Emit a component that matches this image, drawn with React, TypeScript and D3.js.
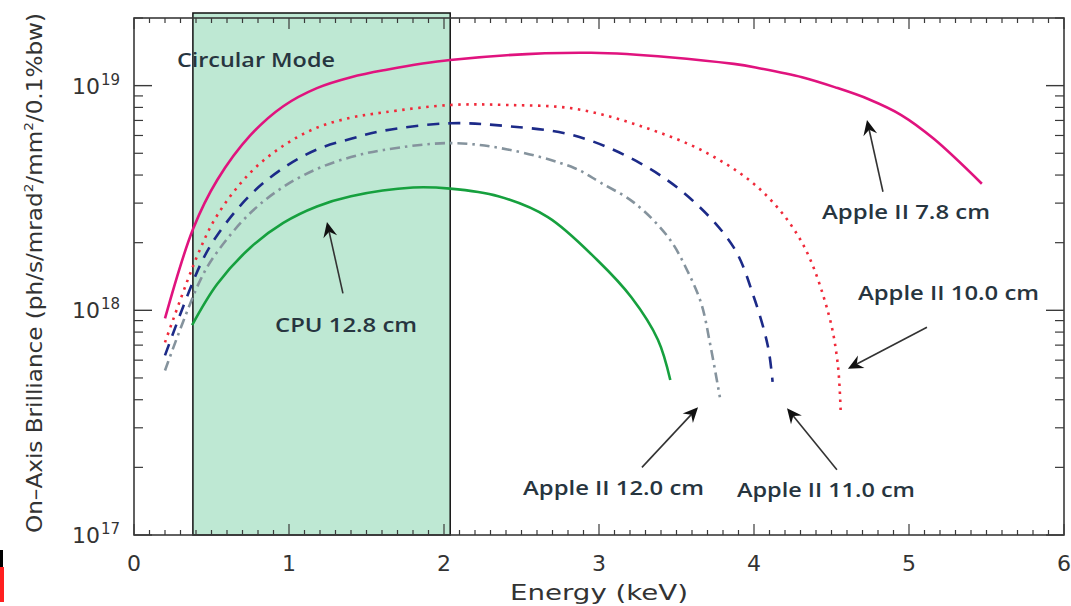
import React from "react";
import * as d3 from "d3";

// ---------- data (energy keV, brilliance) ----------
const apple78E = [0.2, 0.381, 0.537, 0.75, 0.963, 1.18, 1.4, 1.61, 2.04, 2.95, 3.87, 4.05, 4.31, 4.52, 4.74, 4.95, 5.16, 5.47];
const apple78B = [9.2e17, 2.3e18, 3.8e18, 6.0e18, 8.1e18, 9.75e18, 1.09e19, 1.17e19, 1.3e19, 1.4e19, 1.25e19, 1.19e19, 1.09e19, 9.85e18, 8.7e18, 7.4e18, 5.8e18, 3.66e18];

const apple100E = [0.2, 0.41, 0.537, 0.75, 0.963, 1.18, 1.4, 1.61, 2.04, 2.41, 2.84, 3.27, 3.7, 4.05, 4.31, 4.48, 4.54, 4.56];
const apple100B = [7.2e17, 1.76e18, 2.65e18, 4.1e18, 5.4e18, 6.5e18, 7.2e18, 7.6e18, 8.2e18, 8.2e18, 7.9e18, 6.6e18, 5.0e18, 3.4e18, 2.0e18, 9.7e17, 5.8e17, 3.4e17];

const apple110E = [0.2, 0.427, 0.537, 0.75, 0.963, 1.18, 1.4, 1.61, 2.04, 2.41, 2.84, 3.27, 3.6, 3.87, 4.0, 4.09, 4.12];
const apple110B = [6.3e17, 1.59e18, 2.16e18, 3.26e18, 4.3e18, 5.2e18, 5.8e18, 6.3e18, 6.8e18, 6.6e18, 6.0e18, 4.5e18, 3.1e18, 1.9e18, 1.14e18, 6.9e17, 4.8e17];

const apple120E = [0.2, 0.427, 0.537, 0.75, 0.963, 1.18, 1.4, 1.61, 2.04, 2.41, 2.84, 3.01, 3.23, 3.45, 3.57, 3.66, 3.72, 3.78];
const apple120B = [5.4e17, 1.36e18, 1.82e18, 2.71e18, 3.54e18, 4.26e18, 4.81e18, 5.17e18, 5.55e18, 5.2e18, 4.3e18, 3.7e18, 3.0e18, 2.1e18, 1.5e18, 1.07e18, 6.9e17, 4.1e17];

const cpuE = [0.375, 0.537, 0.75, 0.963, 1.18, 1.4, 1.8, 2.04, 2.35, 2.67, 2.99, 3.21, 3.38, 3.46];
const cpuB = [8.6e17, 1.31e18, 1.9e18, 2.45e18, 2.9e18, 3.22e18, 3.52e18, 3.48e18, 3.22e18, 2.6e18, 1.67e18, 1.14e18, 7.4e17, 4.9e17];

const xTickLabels = ["0", "1", "2", "3", "4", "5", "6"];
const yTickExponents = ["17", "18", "19"];
const circularModeRange = [0.38, 2.04];

const seriesNames = ["Apple II 7.8 cm", "Apple II 10.0 cm", "Apple II 11.0 cm", "Apple II 12.0 cm", "CPU 12.8 cm"];
// label anchor [energy, brilliance], arrow tail, arrow tip
const labelAt = [[4.439, 2.55e18], [4.671, 1.11e18], [3.89, 1.48e17], [2.51, 1.51e17], [0.91, 8.0e17]];
const arrowTail = [[4.832, 3.37e18], [5.116, 8.4e17], [4.535, 1.95e17], [3.277, 2.0e17], [1.348, 1.19e18]];
const arrowTip = [[4.729, 7.03e18], [4.606, 5.5e17], [4.213, 3.67e17], [3.639, 3.7e17], [1.245, 2.47e18]];
const labelWidths = [168, 181, 178, 181, 142];

const W = 1071, H = 606;
const x = d3.scaleLinear().domain([0, 6]).range([134, 1064]);
const y = d3.scaleLog().domain([1e17, 2e19]).range([535, 18]);

const series = [
  { e: apple78E, b: apple78B, color: "#e0137e", dash: null },
  { e: apple100E, b: apple100B, color: "#f02a3a", dash: "2.5,5.5" },
  { e: apple110E, b: apple110B, color: "#1c2a88", dash: "12,9" },
  { e: apple120E, b: apple120B, color: "#85939d", dash: "10,5,2.5,5" },
  { e: cpuE, b: cpuB, color: "#16a03e", dash: null },
];

const line = d3
  .line<[number, number]>()
  .x((d) => x(d[0]))
  .y((d) => y(d[1]))
  .curve(d3.curveCatmullRom.alpha(0.5));

function arrowPath(tail: number[], tip: number[]) {
  const x0 = x(tail[0]), y0 = y(tail[1]);
  const x1 = x(tip[0]), y1 = y(tip[1]);
  const dx = x1 - x0, dy = y1 - y0;
  const len = Math.hypot(dx, dy);
  const ux = dx / len, uy = dy / len;
  const px = -uy, py = ux;
  const hl = 15, hw = 7, notch = 10;
  const bx = x1 - ux * hl, by = y1 - uy * hl;
  const nx = x1 - ux * notch, ny = y1 - uy * notch;
  return {
    shaft: `M${x0},${y0}L${nx},${ny}`,
    head: `M${x1},${y1}L${bx + px * hw},${by + py * hw}L${nx},${ny}L${bx - px * hw},${by - py * hw}Z`,
  };
}

export default function App() {
  const frameColor = "#3a3a3a";
  const textColor = "#27353f";
  const axisFont = "'DejaVu Sans', sans-serif";
  const annFont = "'Open Sans', sans-serif";
  const [x0, x1] = x.range();
  const [yb, yt] = y.range();

  const xMinor = d3.range(0, 60.5, 1).map((v) => v / 10);
  const yMinor: number[] = [];
  [1e17, 1e18, 1e19].forEach((dec) => {
    for (let k = 2; k <= 9; k++) {
      const v = dec * k;
      if (v <= 2e19) yMinor.push(v);
    }
  });

  return (
    <svg width={W} height={H} style={{ position: "absolute", left: 0, top: 0, background: "#fff" }}>
      <rect x={0} y={0} width={W} height={H} fill="#fff" />
      {/* left-edge artifact */}
      <rect x={0} y={550} width={3} height={17} fill="#000" />
      <rect x={0} y={567} width={4} height={35} fill="#ff2020" />

      {/* circular mode band */}
      <rect
        x={x(circularModeRange[0])}
        y={13}
        width={x(circularModeRange[1]) - x(circularModeRange[0])}
        height={yb - 13}
        fill="#bee8d3"
        stroke="#111"
        strokeWidth={1.5}
      />

      {/* frame */}
      <rect x={x0} y={yt} width={x1 - x0} height={yb - yt} fill="none" stroke={frameColor} strokeWidth={1.6} />

      {/* x ticks */}
      {xMinor.map((v, i) => {
        const major = Math.abs(v - Math.round(v)) < 1e-6;
        const L = major ? 11 : 5;
        return (
          <g key={"xt" + i} stroke={frameColor} strokeWidth={1.2}>
            <line x1={x(v)} x2={x(v)} y1={yb} y2={yb - L} />
            <line x1={x(v)} x2={x(v)} y1={yt} y2={yt + L} />
          </g>
        );
      })}
      {/* y ticks */}
      {yMinor.map((v, i) => (
        <g key={"ym" + i} stroke={frameColor} strokeWidth={1.2}>
          <line x1={x0} x2={x0 + 9} y1={y(v)} y2={y(v)} />
          <line x1={x1} x2={x1 - 9} y1={y(v)} y2={y(v)} />
        </g>
      ))}
      {yTickExponents.map((ex) => {
        const v = Math.pow(10, +ex);
        return (
          <g key={"yM" + ex} stroke={frameColor} strokeWidth={1.4}>
            <line x1={x0} x2={x0 + 18} y1={y(v)} y2={y(v)} />
            <line x1={x1} x2={x1 - 18} y1={y(v)} y2={y(v)} />
          </g>
        );
      })}

      {/* tick labels */}
      {xTickLabels.map((t) => (
        <text key={"xl" + t} x={x(+t)} y={571} textAnchor="middle" fontFamily={axisFont} fontSize={22} fill="#333">
          {t}
        </text>
      ))}
      {yTickExponents.map((ex) => {
        const v = Math.pow(10, +ex);
        return (
          <text key={"yl" + ex} x={72} y={y(v) + 8} fontFamily={axisFont} fontSize={22} fill="#333">
            10
            <tspan fontSize={15} dy={-9} dx={1}>
              {ex}
            </tspan>
          </text>
        );
      })}

      {/* axis titles */}
      <text x={599} y={600} textAnchor="middle" fontFamily={axisFont} fontSize={22} fill="#333" textLength={178} lengthAdjust="spacingAndGlyphs">
        Energy (keV)
      </text>
      <text
        transform={`translate(42,${273}) rotate(-90)`}
        textAnchor="middle"
        fontFamily={axisFont}
        fontSize={22}
        fill="#333"
        textLength={520}
        lengthAdjust="spacingAndGlyphs"
      >
        On–Axis Brilliance (ph/s/mrad
        <tspan fontSize={13} dy={-9}>2</tspan>
        <tspan dy={9}>/mm</tspan>
        <tspan fontSize={13} dy={-9}>2</tspan>
        <tspan dy={9}>/0.1%bw)</tspan>
      </text>

      {/* curves */}
      {series.map((s, i) => (
        <path
          key={"s" + i}
          d={line(s.e.map((e, j) => [e, s.b[j]] as [number, number])) || ""}
          fill="none"
          stroke={s.color}
          strokeWidth={2.6}
          strokeDasharray={s.dash || undefined}
        />
      ))}

      {/* annotations */}
      <text x={x(0.277)} y={y(1.21e19)} fontFamily={annFont} fontWeight={600} fontSize={20} fill={textColor} textLength={158} lengthAdjust="spacingAndGlyphs">
        Circular Mode
      </text>
      {seriesNames.map((name, i) => {
        const a = arrowPath(arrowTail[i], arrowTip[i]);
        return (
          <g key={"ann" + i}>
            <path d={a.shaft} stroke="#333" strokeWidth={1.6} fill="none" />
            <path d={a.head} fill="#111" />
            <text
              x={x(labelAt[i][0])}
              y={y(labelAt[i][1])}
              fontFamily={annFont}
              fontWeight={600}
              fontSize={20}
              fill={textColor}
              textLength={labelWidths[i]}
              lengthAdjust="spacingAndGlyphs"
            >
              {name}
            </text>
          </g>
        );
      })}
    </svg>
  );
}
